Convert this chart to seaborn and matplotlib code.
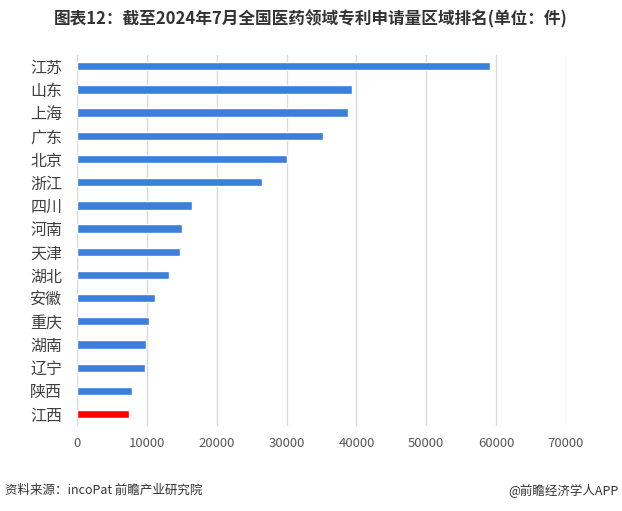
import matplotlib
matplotlib.use("Agg")
import matplotlib.pyplot as plt
import seaborn as sns
import pandas as pd

# 省份与专利申请量（件）
provinces = ["江苏", "山东", "上海", "广东", "北京", "浙江", "四川", "河南",
             "天津", "湖北", "安徽", "重庆", "湖南", "辽宁", "陕西", "江西"]
counts = [59100, 39300, 38850, 35250, 30100, 26500, 16450, 15000,
          14750, 13150, 11150, 10300, 9850, 9700, 7850, 7400]
highlight = "江西"
x_ticks = [0, 10000, 20000, 30000, 40000, 50000, 60000, 70000]

sns.set_theme(style="white")
plt.rcParams["font.family"] = ["Noto Sans CJK SC", "DejaVu Sans"]

df = pd.DataFrame({"province": provinces, "count": counts})
colors = {p: ("#FF0000" if p == highlight else "#3A7FDB") for p in provinces}

fig = plt.figure(figsize=(6.22, 5.11), dpi=100)
ax = fig.add_axes([0.1245, 0.167, 0.785, 0.726])

sns.barplot(data=df, x="count", y="province", hue="province", palette=colors,
            orient="h", width=0.36, legend=False, ax=ax, saturation=1)

ax.set_xlim(0, 70000)
ax.set_xticks(x_ticks)
ax.set_xticklabels([str(t) for t in x_ticks], fontsize=9.5, color="#595959")
ax.tick_params(axis="y", labelsize=11.5, colors="#404040", length=0, pad=11)
ax.tick_params(axis="x", length=0, pad=8)
ax.set_xlabel("")
ax.set_ylabel("")
for s in ax.spines.values():
    s.set_visible(False)
ax.grid(axis="x", color="#D9D9D9", linewidth=1)
ax.set_axisbelow(True)

fig.text(0.5, 0.962, "图表12：截至2024年7月全国医药领域专利申请量区域排名(单位：件)",
         ha="center", va="center", fontsize=12, fontweight="bold", color="#333333")
fig.text(0.008, 0.04, "资料来源：incoPat 前瞻产业研究院", ha="left", va="center",
         fontsize=9, color="#333333")
fig.text(0.995, 0.04, "@前瞻经济学人APP", ha="right", va="center",
         fontsize=9, color="#333333")

fig.savefig("out.png", dpi=100)
